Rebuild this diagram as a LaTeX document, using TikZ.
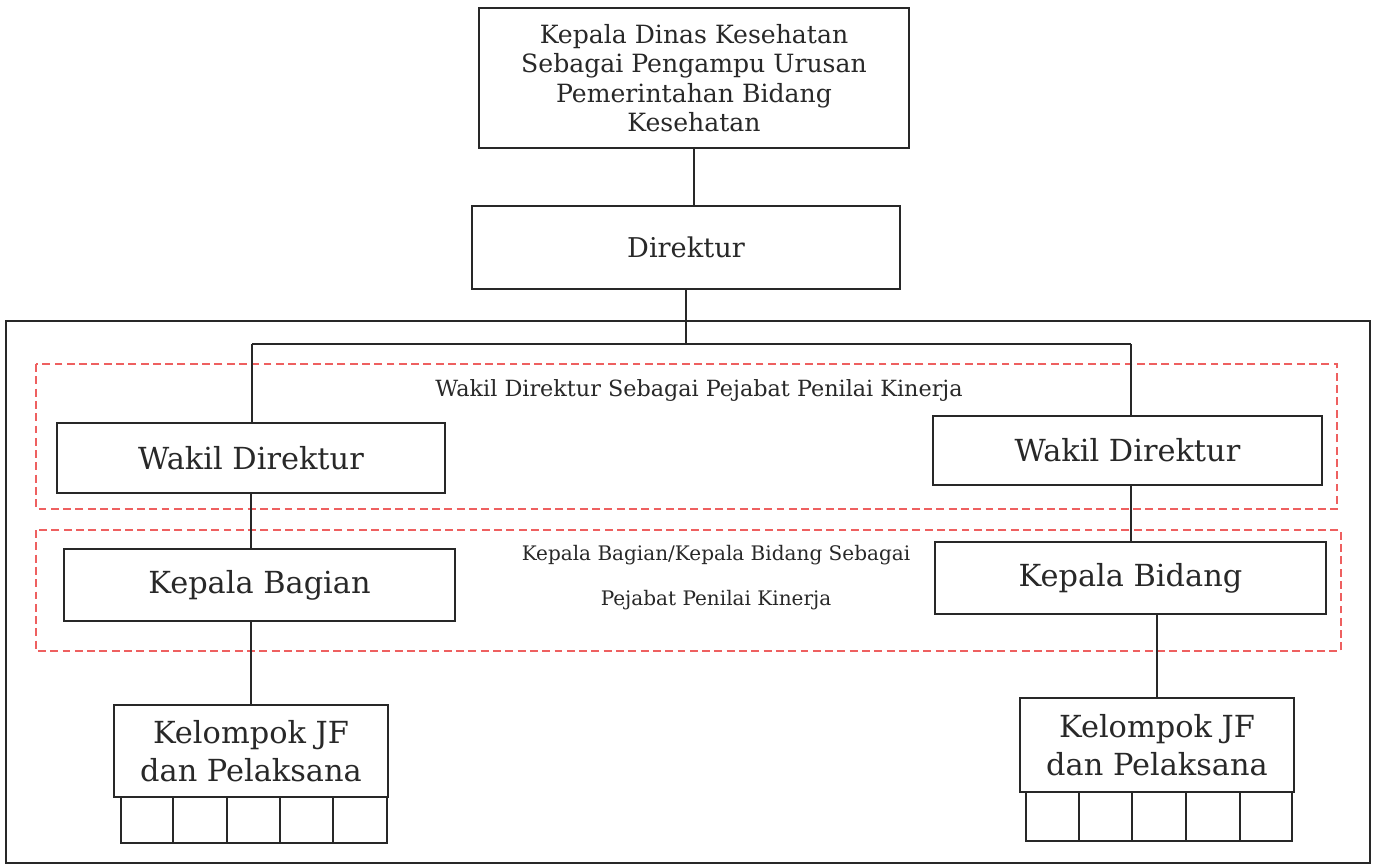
\documentclass[tikz,border=0pt]{standalone}
\usepackage{fontspec}
\setmainfont{DejaVu Serif}
\definecolor{dashred}{RGB}{238,96,96}
\definecolor{ink}{RGB}{40,40,40}
\tikzset{
  box/.style={draw=ink, line width=1pt, rectangle, inner sep=0pt, align=center, text=ink},
  conn/.style={draw=ink, line width=1pt},
  redbox/.style={draw=dashred, line width=1pt, dash pattern=on 4.5pt off 2.5pt},
  lbl/.style={inner sep=0pt, text=ink, align=center},
  bigtxt/.style={font=\fontsize{17.3}{21.5}\selectfont},
}
\begin{document}
\begin{tikzpicture}[x=0.02cm,y=-0.02cm]
\useasboundingbox (0,0) rectangle (1373,867);
% outer frame
\draw[ink, line width=1.1pt] (6,321) rectangle (1370,863);
% red dashed groups
\draw[redbox] (36,364) rectangle (1337,509);
\draw[redbox] (36,530) rectangle (1341,651);
% labels
\node[lbl, font=\fontsize{12.7}{15}\selectfont] (lab1) at (699,390) {Wakil Direktur Sebagai Pejabat Penilai Kinerja};
\node[lbl, font=\fontsize{11.4}{14}\selectfont] (lab2a) at (716,555) {Kepala Bagian/Kepala Bidang Sebagai};
\node[lbl, font=\fontsize{11.4}{14}\selectfont] (lab2b) at (716,600) {Pejabat Penilai Kinerja};
% boxes
\node[box, minimum width=8.6cm, minimum height=2.8cm, font=\fontsize{14.3}{16.8}\selectfont] (top) at (694,78)
  {Kepala Dinas Kesehatan\\Sebagai Pengampu Urusan\\Pemerintahan Bidang\\Kesehatan};
\node[box, minimum width=8.56cm, minimum height=1.66cm, font=\fontsize{15.5}{18}\selectfont] (dir) at (686,247.5) {Direktur};
\node[box, bigtxt, minimum width=7.76cm, minimum height=1.4cm] (wdL) at (251,458) {Wakil Direktur};
\node[box, bigtxt, minimum width=7.78cm, minimum height=1.38cm] (wdR) at (1127.5,450.5) {Wakil Direktur};
\node[box, bigtxt, minimum width=7.82cm, minimum height=1.44cm] (kbag) at (259.5,585) {Kepala Bagian};
\node[box, bigtxt, minimum width=7.82cm, minimum height=1.44cm] (kbid) at (1130.5,578) {Kepala Bidang};
\node[box, bigtxt, minimum width=5.48cm, minimum height=1.84cm] (kelL) at (251,751) {Kelompok JF\\dan Pelaksana};
\node[box, bigtxt, minimum width=5.48cm, minimum height=1.88cm] (kelR) at (1157,745) {Kelompok JF\\dan Pelaksana};
% cells under Kelompok boxes
\foreach \a/\b [count=\i] in {121/173,173/227,227/280,280/333,333/387}
  \node[box, minimum width={(\b-\a)*0.02cm}, minimum height=0.92cm] (cellL\i) at ({(\a+\b)/2},820) {};
\foreach \a/\b [count=\i] in {1026/1079,1079/1132,1132/1186,1186/1240,1240/1292}
  \node[box, minimum width={(\b-\a)*0.02cm}, minimum height=0.98cm] (cellR\i) at ({(\a+\b)/2},816.5) {};
% connectors
\coordinate (busL) at (252,344);
\coordinate (busR) at (1131,344);
\draw[conn] (top.south) -- (top.south |- dir.north);
\draw[conn] (dir.south) -- (dir.south |- busL);
\draw[conn] (busL) -- (busR);
\draw[conn] (busL) -- (busL |- wdL.north);
\draw[conn] (busR) -- (busR |- wdR.north);
\draw[conn] (wdL.south) -- (wdL.south |- kbag.north);
\draw[conn] (busR |- wdR.south) -- (busR |- kbid.north);
\draw[conn] (kelL.north |- kbag.south) -- (kelL.north);
\draw[conn] (kelR.north |- kbid.south) -- (kelR.north);
\end{tikzpicture}
\end{document}
